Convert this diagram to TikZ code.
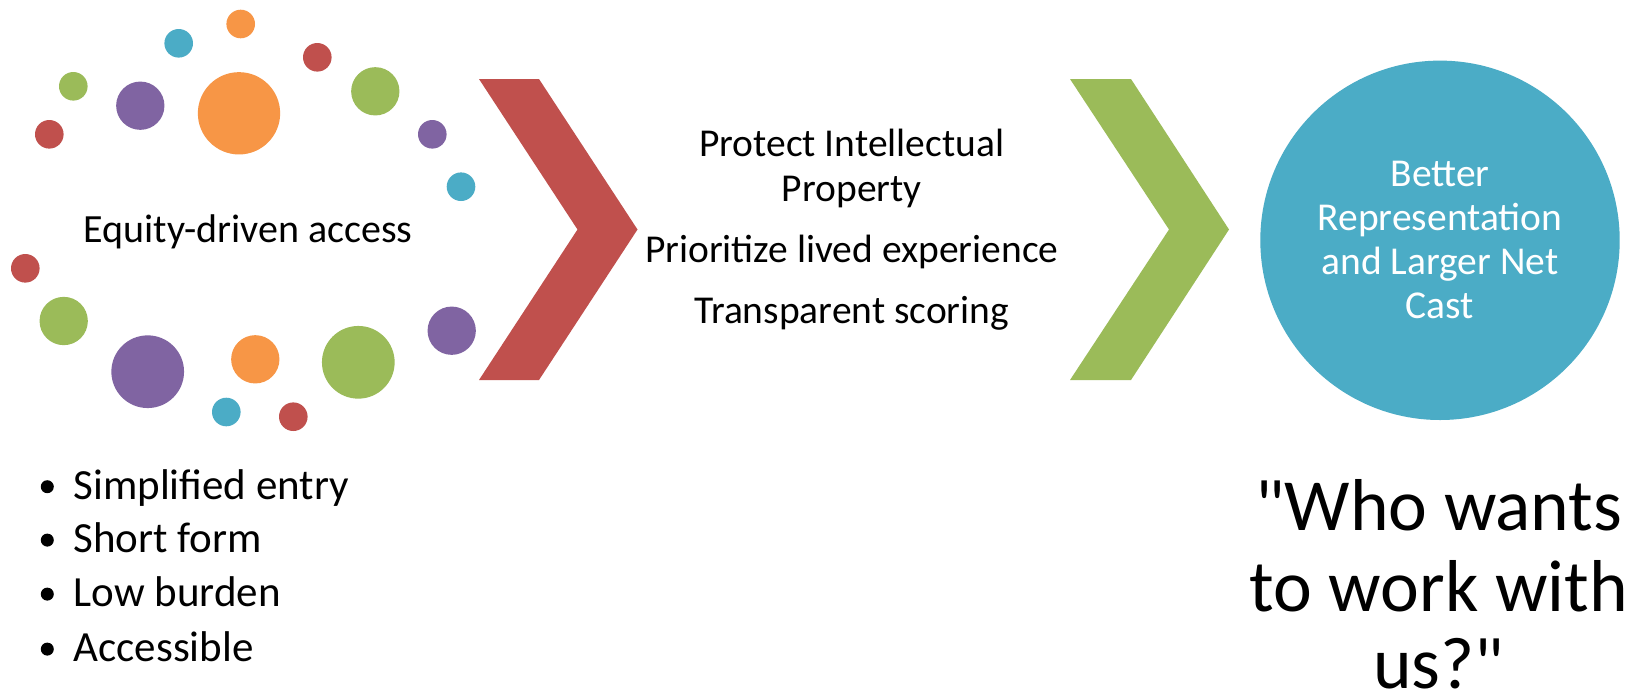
\documentclass[tikz,border=0pt]{standalone}
\usepackage{fontspec}
\setmainfont{Carlito}
\usepackage{tikz}

\definecolor{accred}{HTML}{C0504D}
\definecolor{accorange}{HTML}{F79646}
\definecolor{accgreen}{HTML}{9BBB59}
\definecolor{accblue}{HTML}{4BACC6}
\definecolor{accpurple}{HTML}{8064A2}

\begin{document}
\begin{tikzpicture}[x=1pt, y=-1pt,
	dot/.style={circle, inner sep=0pt, minimum size=#1},
	dot/.default=28.6,
	midtext/.style={anchor=base, inner sep=0pt, font=\fontsize{39.5}{46}\selectfont},
	listtext/.style={anchor=base west, inner sep=0pt, font=\fontsize{43}{52}\selectfont},
	bigtext/.style={anchor=base, inner sep=0pt, font=\fontsize{73.5}{80}\selectfont}]
	\useasboundingbox (0,0) rectangle (1638,697);
	\fill[white] (0,0) rectangle (1638,697);

	% ring of dots
	\node[dot, fill=accorange] (d1) at (240.7,24) {};
	\node[dot, fill=accblue] (d2) at (178.7,43.3) {};
	\node[dot, fill=accred] (d3) at (317.3,57.3) {};
	\node[dot, fill=accgreen] (d4) at (73.3,86.3) {};
	\node[dot=48.3, fill=accpurple] (d5) at (140.3,105.7) {};
	\node[dot=82.3, fill=accorange] (d6) at (239,113.3) {};
	\node[dot=48.3, fill=accgreen] (d7) at (375.3,91.3) {};
	\node[dot, fill=accred] (d8) at (49.3,134.3) {};
	\node[dot, fill=accpurple] (d9) at (432.3,134.3) {};
	\node[dot, fill=accblue] (d10) at (461,186.7) {};
	\node[dot, fill=accred] (d11) at (25.3,268.3) {};
	\node[dot=48.3, fill=accgreen] (d12) at (63.7,321) {};
	\node[dot=72.7, fill=accpurple] (d13) at (147.7,371.7) {};
	\node[dot=48.3, fill=accorange] (d14) at (255.3,359.3) {};
	\node[dot=72.7, fill=accgreen] (d15) at (358.3,362.3) {};
	\node[dot=48.3, fill=accpurple] (d16) at (451.7,330.7) {};
	\node[dot, fill=accblue] (d17) at (226.3,412) {};
	\node[dot, fill=accred] (d18) at (293.3,416.7) {};
	\node[anchor=base, inner sep=0pt, font=\fontsize{40}{46}\selectfont] (equity) at (248,242.3) {Equity-driven access};

	% bullets
	\fill (47.3,486.7) circle (6.5);
	\fill (47.3,540.1) circle (6.5);
	\fill (47.3,594.1) circle (6.5);
	\fill (47.3,649.1) circle (6.5);
	\node[listtext] (simple) at (73.3,499.3) {Simplified entry};
	\node[listtext] (short) at (73.3,552.7) {Short form};
	\node[listtext] (low) at (73.3,606.7) {Low burden};
	\node[listtext] (access) at (73.3,661.7) {Accessible};

	% chevrons
	\fill[accred] (479,79) -- (539,79) -- (637.5,229.5) -- (539,380) -- (479,380) -- (577.5,229.5) -- cycle;
	\fill[accgreen] (1070,79) -- (1131,79) -- (1229,229.5) -- (1131,380) -- (1070,380) -- (1169,229.5) -- cycle;

	% middle step
	\node[midtext] (protect) at (851.7,156.7) {Protect Intellectual};
	\node[midtext] (property) at (851.7,201.7) {Property};
	\node[midtext] (prior) at (851.7,262.7) {Prioritize lived experience};
	\node[midtext] (transp) at (851.7,323.3) {Transparent scoring};

	% outcome
	\node[circle, inner sep=0pt, minimum size=359.4, fill=accblue, text=white, align=center,
		font=\fontsize{39.5}{44}\selectfont] (goal) at (1440,240.3)
		{Better\\Representation\\and Larger Net\\Cast};
	\node[bigtext] (who1) at (1438.7,530.7) {\textquotedbl Who wants};
	\node[bigtext] (who2) at (1438.7,611.7) {to work with};
	\node[bigtext] (who3) at (1438.7,688.5) {us?\textquotedbl};
\end{tikzpicture}
\end{document}
